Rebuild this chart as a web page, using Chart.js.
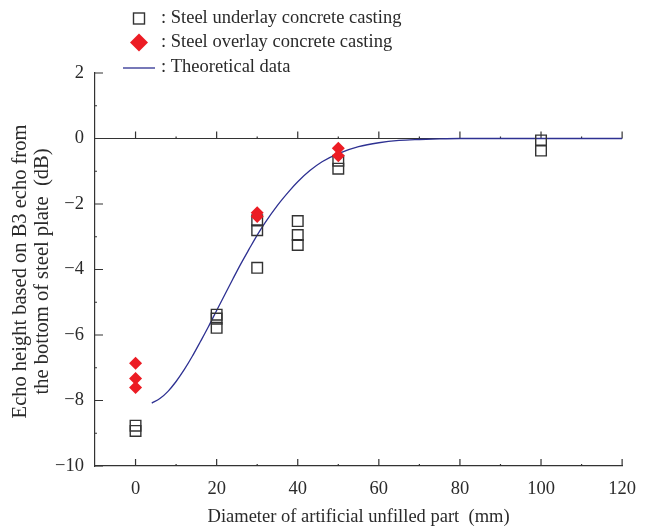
<!DOCTYPE html>
<html>
<head>
<meta charset="utf-8">
<script src="https://cdn.jsdelivr.net/npm/chart.js@4.4.1/dist/chart.umd.min.js"></script>
<style>
  body { margin: 0; background: #fff; }
  #wrap { width: 648px; height: 528px; }
</style>
</head>
<body>
<div id="wrap"><canvas id="echo"></canvas></div>
<script>
// data
const underlayX = [0, 0, 20, 20, 20, 30, 30, 30, 40, 40, 40, 50, 50, 100, 100];
const underlayY = [-8.77, -8.93, -5.38, -5.5, -5.78, -2.5, -2.8, -3.95, -2.52, -2.95, -3.25, -0.68, -0.92, -0.06, -0.37];

const overlayX = [0, 0, 0, 30, 30, 50, 50];
const overlayY = [-6.86, -7.33, -7.6, -2.27, -2.38, -0.3, -0.53];

const theoryX = [4, 6, 8, 10, 12, 14, 16, 18, 20, 22, 24, 26, 28, 30, 32, 35, 38, 40, 43, 46, 50, 55, 60, 65, 70, 75, 80, 90, 100, 110, 120];
const theoryY = [-8.08, -7.94, -7.72, -7.42, -7.06, -6.65, -6.2, -5.74, -5.25, -4.77, -4.29, -3.82, -3.38, -2.95, -2.56, -2.04, -1.59, -1.32, -0.98, -0.71, -0.46, -0.25, -0.13, -0.06, -0.03, -0.01, 0, 0, 0, 0, 0];

const xTicks = [0, 20, 40, 60, 80, 100, 120];
const xMinor = [10, 30, 50, 70, 90, 110];
const yTicks = [2, 0, -2, -4, -6, -8, -10];
const yMinor = [1, -1, -3, -5, -7, -9];

const labels = [
  ": Steel underlay concrete casting",
  ": Steel overlay concrete casting",
  ": Theoretical data",
];

const serif = "'Liberation Serif', 'Times New Roman', serif";
const axisColor = "#333";
const textColor = "#2a2a2a";
const blue = "#2e3192";
const red = "#ec1c24";

function pts(xs, ys) {
  return xs.map((x, i) => ({ x: x, y: ys[i] }));
}

function minus(v) {
  return v < 0 ? "\u2212" + Math.abs(v) : String(v);
}

// inward ticks, the line at y = 0, legend and axis titles
const decor = {
  id: "decor",
  beforeDatasetsDraw(chart) {
    const ctx = chart.ctx;
    const x = chart.scales.x;
    const y = chart.scales.y;
    const a = chart.chartArea;
    const y0 = y.getPixelForValue(0);
    ctx.save();
    ctx.strokeStyle = axisColor;
    ctx.lineWidth = 1.2;
    ctx.beginPath();
    ctx.moveTo(a.left, y0);
    ctx.lineTo(a.right, y0);
    xTicks.forEach((v) => {
      const px = x.getPixelForValue(v);
      ctx.moveTo(px, a.bottom);
      ctx.lineTo(px, a.bottom - 7);
      ctx.moveTo(px, y0);
      ctx.lineTo(px, y0 - 7);
    });
    xMinor.forEach((v) => {
      const px = x.getPixelForValue(v);
      ctx.moveTo(px, a.bottom);
      ctx.lineTo(px, a.bottom - 2);
      ctx.moveTo(px, y0);
      ctx.lineTo(px, y0 - 2);
    });
    yTicks.forEach((v) => {
      const py = y.getPixelForValue(v);
      ctx.moveTo(a.left, py);
      ctx.lineTo(a.left + 8, py);
    });
    yMinor.forEach((v) => {
      const py = y.getPixelForValue(v);
      ctx.moveTo(a.left, py);
      ctx.lineTo(a.left + 2, py);
    });
    ctx.stroke();
    ctx.restore();
  },
  afterDraw(chart) {
    const ctx = chart.ctx;
    const a = chart.chartArea;
    ctx.save();
    ctx.fillStyle = textColor;
    ctx.font = "18.5px " + serif;
    ctx.textBaseline = "middle";
    ctx.textAlign = "left";

    // legend
    ctx.strokeStyle = axisColor;
    ctx.lineWidth = 1.4;
    ctx.strokeRect(133.5, 13, 11, 11);
    ctx.fillText(labels[0], 161, 18.5);

    ctx.fillStyle = red;
    ctx.beginPath();
    ctx.moveTo(139, 33.5);
    ctx.lineTo(148, 42.5);
    ctx.lineTo(139, 51.5);
    ctx.lineTo(130, 42.5);
    ctx.closePath();
    ctx.fill();
    ctx.fillStyle = textColor;
    ctx.fillText(labels[1], 161, 42.5);

    ctx.strokeStyle = blue;
    ctx.lineWidth = 1.3;
    ctx.beginPath();
    ctx.moveTo(123, 68);
    ctx.lineTo(155, 68);
    ctx.stroke();
    ctx.fillText(labels[2], 161, 67);

    // axis titles
    ctx.textAlign = "center";
    ctx.fillText("Diameter of artificial unfilled part  (mm)", (a.left + a.right) / 2, 517);
    ctx.font = "20.5px " + serif;
    ctx.translate(21, (a.top + a.bottom) / 2 + 2);
    ctx.rotate(-Math.PI / 2);
    ctx.fillText("Echo height based on B3 echo from", 0, 0);
    ctx.fillText("the bottom of steel plate  (dB)", 0, 22);
    ctx.restore();
  },
};

new Chart(document.getElementById("echo"), {
  type: "scatter",
  data: {
    datasets: [
      {
        label: labels[1],
        data: pts(overlayX, overlayY),
        pointStyle: "rectRot",
        pointRadius: 6.5,
        pointHoverRadius: 6.5,
        backgroundColor: red,
        borderColor: red,
        borderWidth: 0,
      },
      {
        label: labels[0],
        data: pts(underlayX, underlayY),
        pointStyle: "rect",
        pointRadius: 7.5,
        pointHoverRadius: 7.5,
        backgroundColor: "rgba(0,0,0,0)",
        borderColor: axisColor,
        borderWidth: 1.4,
      },
      {
        label: labels[2],
        data: pts(theoryX, theoryY),
        showLine: true,
        pointRadius: 0,
        borderColor: blue,
        borderWidth: 1.3,
        cubicInterpolationMode: "monotone",
      },
    ],
  },
  options: {
    responsive: true,
    maintainAspectRatio: false,
    animation: false,
    layout: {
      padding: { top: 73, right: 23, left: 0, bottom: 0 },
    },
    scales: {
      x: {
        type: "linear",
        min: -10,
        max: 120,
        afterFit(scale) {
          scale.height = 62;
        },
        afterBuildTicks(scale) {
          scale.ticks = xTicks.map((v) => ({ value: v }));
        },
        grid: { display: false, drawTicks: false },
        border: { display: true, color: axisColor, width: 1.2 },
        ticks: {
          padding: 12,
          color: textColor,
          font: { family: serif, size: 18.5 },
          maxRotation: 0,
        },
      },
      y: {
        min: -10,
        max: 2,
        afterFit(scale) {
          scale.width = 95;
        },
        afterBuildTicks(scale) {
          scale.ticks = yTicks.map((v) => ({ value: v }));
        },
        grid: { display: false, drawTicks: false },
        border: { display: true, color: axisColor, width: 1.2 },
        ticks: {
          padding: 11,
          color: textColor,
          font: { family: serif, size: 18.5 },
          callback: (v) => minus(v),
        },
      },
    },
    plugins: {
      legend: { display: false },
      tooltip: { enabled: false },
    },
  },
  plugins: [decor],
});
</script>
</body>
</html>
